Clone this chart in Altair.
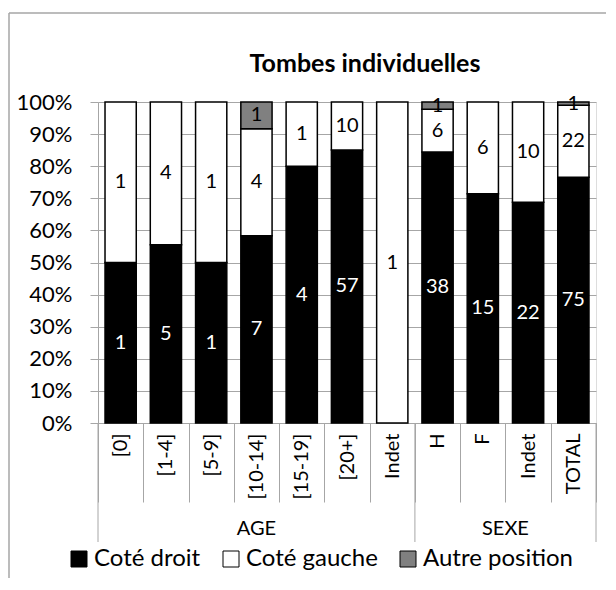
import altair as alt
import pandas as pd

# ---- data ----
categories = ["[0]", "[1-4]", "[5-9]", "[10-14]", "[15-19]", "[20+]", "Indet",
              "H", "F", "Indet", "TOTAL"]
groups = ["AGE", "AGE", "AGE", "AGE", "AGE", "AGE", "AGE",
          "SEXE", "SEXE", "SEXE", "SEXE"]
cote_droit = [1, 5, 1, 7, 4, 57, 0, 38, 15, 22, 75]
cote_gauche = [1, 4, 1, 4, 1, 10, 1, 6, 6, 10, 22]
autre_position = [0, 0, 0, 1, 0, 0, 0, 1, 0, 0, 1]
series = ["Coté droit", "Coté gauche", "Autre position"]
series_colors = ["#000000", "#ffffff", "#808080"]
y_ticks = [0, 0.1, 0.2, 0.3, 0.4, 0.5, 0.6, 0.7, 0.8, 0.9, 1.0]
title_text = "Tombes individuelles"

FONT = "Lato"
GRAY = "#a6a6a6"
W, H = 498, 321

ids = [f"{i}|{c}" for i, c in enumerate(categories)]
rows = []
for i, cid in enumerate(ids):
    vals = [cote_droit[i], cote_gauche[i], autre_position[i]]
    total = sum(vals)
    cum = 0
    for k, s in enumerate(series):
        v = vals[k]
        rows.append(dict(id=cid, serie=s, order=k, value=v,
                         mid=(cum + v / 2) / total))
        cum += v
df = pd.DataFrame(rows)
df_nz = df[df["value"] > 0]

x_scale = alt.Scale(domain=ids, paddingInner=0, paddingOuter=0)
y_scale = alt.Scale(domain=[0, 1])

x_axis = alt.Axis(
    title=None, labelExpr="split(datum.value, '|')[1]", labelAngle=270,
    tickBand="extent", tickSize=79, labelPadding=-69, tickColor=GRAY,
    domainColor=GRAY, labelFont=FONT, labelFontSize=20, labelColor="black",
    grid=False, labelOverlap=False,
)
y_axis = alt.Axis(
    title=None, values=y_ticks, tickCount=30, format=".0%", grid=True,
    gridColor=GRAY, domainColor=GRAY, tickColor=GRAY, tickSize=8,
    labelPadding=18, labelFont=FONT, labelFontSize=22, labelColor="black",
    labelOverlap=False,
)

bars = alt.Chart(df_nz).mark_bar(
    width=alt.RelativeBandSize(0.69), stroke="black", strokeWidth=1.5
).encode(
    x=alt.X("id:N", scale=x_scale, axis=x_axis),
    y=alt.Y("value:Q", stack="normalize", scale=y_scale, axis=y_axis),
    color=alt.Color(
        "serie:N", scale=alt.Scale(domain=series, range=series_colors),
        legend=alt.Legend(
            title=None, orient="none", legendX=-31, legendY=445,
            direction="horizontal", symbolType="square", symbolSize=256,
            symbolStrokeColor="black", symbolStrokeWidth=1, labelFont=FONT,
            labelFontSize=24, labelColor="black", columnPadding=18,
            labelOffset=3, labelLimit=400, padding=0,
        ),
    ),
    order=alt.Order("order:Q"),
)

labels = alt.Chart(df_nz).mark_text(font=FONT, fontSize=20, baseline="middle").encode(
    x=alt.X("id:N", scale=x_scale),
    y=alt.Y("mid:Q", scale=y_scale, axis=y_axis),
    text=alt.Text("value:Q"),
    color=alt.condition("datum.order == 0", alt.value("white"), alt.value("black")),
)

# group separators on the category axis
gstart = pd.DataFrame({"id": [ids[0], ids[7]]})
gend = pd.DataFrame({"id": [ids[10]]})
sep_start = alt.Chart(gstart).mark_rule(color=GRAY, strokeWidth=1).encode(
    x=alt.X("id:N", scale=x_scale, bandPosition=0), y=alt.value(H), y2=alt.value(H + 119))
sep_end = alt.Chart(gend).mark_rule(color=GRAY, strokeWidth=1).encode(
    x=alt.X("id:N", scale=x_scale, bandPosition=1), y=alt.value(H), y2=alt.value(H + 119))

age_lbl = alt.Chart(pd.DataFrame({"id": [ids[3]], "g": [groups[3]]})).mark_text(
    font=FONT, fontSize=20, baseline="middle").encode(
    x=alt.X("id:N", scale=x_scale, bandPosition=0.5), y=alt.value(H + 106), text="g:N")
sexe_lbl = alt.Chart(pd.DataFrame({"id": [ids[8]], "g": [groups[8]]})).mark_text(
    font=FONT, fontSize=20, baseline="middle").encode(
    x=alt.X("id:N", scale=x_scale, bandPosition=1), y=alt.value(H + 106), text="g:N")

# chart title
title = alt.Chart(pd.DataFrame({"t": [title_text]})).mark_text(
    font=FONT, fontSize=25, fontWeight="bold", color="black",
    baseline="alphabetic", align="center").encode(
    x=alt.value(W / 2 + 18), y=alt.value(-30), text="t:N")

# outer chart frame (left and top edges)
frame_left = alt.Chart(pd.DataFrame({"a": [0]})).mark_rule(color=GRAY, strokeWidth=1.5).encode(
    x=alt.value(-89), y=alt.value(-89), y2=alt.value(H + 200))
frame_top = alt.Chart(pd.DataFrame({"a": [0]})).mark_rule(color=GRAY, strokeWidth=1.5).encode(
    x=alt.value(-89), x2=alt.value(W + 40), y=alt.value(-89))

chart = alt.layer(
    frame_left, frame_top, title, bars, labels, sep_start, sep_end, age_lbl, sexe_lbl
).properties(
    width=W, height=H,
    autosize=alt.AutoSizeParams(type="none"),
    padding={"left": 90, "top": 94, "right": 10, "bottom": 155},
).configure_view(stroke=None).configure(background="white")

chart.save("out.html", embed_options={"renderer": "svg", "actions": False})
